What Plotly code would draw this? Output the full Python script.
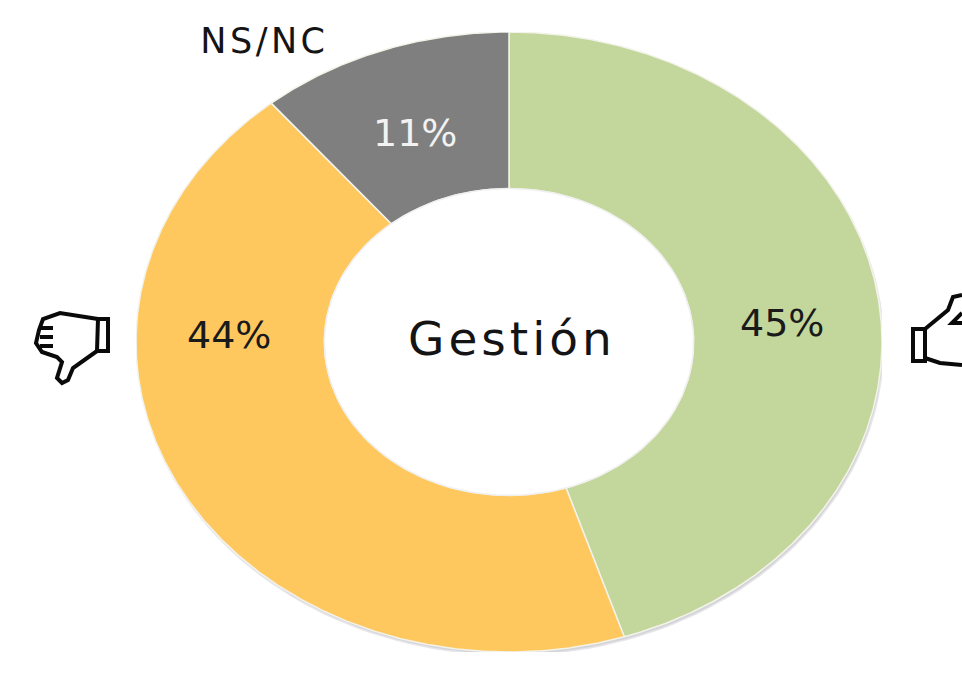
import math
import plotly.graph_objects as go

categories = ["A favor", "En contra", "NS/NC"]
values = [45, 44, 11]
labels = ["45%", "44%", "11%"]
colors = ["#C3D69B", "#FFC85F", "#7F7F7F"]
text_colors = ["#1a1a1a", "#1a1a1a", "#f2f2f2"]
label_x_px = [782, 229, 415]
label_y_px = [323, 335, 133]
HOLE = 0.495

W, H = 962, 674
L, R, T, B = 136, 882, 32, 652
FONT = "DejaVu Sans"
INK = "#141414"


def px_x(v):
    return v / W


def px_y(v):
    return 1 - v / H


def wedge(start, end):
    n = max(8, int((end - start) * 3))
    a = [math.radians(start + (end - start) * i / n) for i in range(n + 1)]
    xs = [math.sin(t) for t in a] + [HOLE * math.sin(t) for t in reversed(a)]
    ys = [math.cos(t) for t in a] + [HOLE * math.cos(t) for t in reversed(a)]
    return xs + xs[:1], ys + ys[:1]


def icon_path(points, closed=False):
    s = "M " + " L ".join(f"{px_x(x):.5f},{px_y(y):.5f}" for x, y in points)
    return s + (" Z" if closed else "")


fig = go.Figure()

# soft drop shadow beneath the ring
ring = [math.radians(i) for i in range(0, 361, 2)]
fig.add_trace(go.Scatter(
    x=[math.sin(t) + 1.5 / ((R - L) / 2) for t in ring],
    y=[math.cos(t) - 3 / ((B - T) / 2) for t in ring],
    mode="lines", fill="toself", fillcolor="#d4d4d8", line=dict(color="#e6e6ea", width=1.5),
    showlegend=False, hoverinfo="skip",
))

total = sum(values)
start = 0.0
for name, v, c in zip(categories, values, colors):
    end = start + 360.0 * v / total
    xs, ys = wedge(start, end)
    fig.add_trace(go.Scatter(x=xs, y=ys, mode="lines", fill="toself", fillcolor=c, name=name,
                             line=dict(color="#f3f3ea", width=1.5), showlegend=False, hoverinfo="name"))
    start = end

# white hole on top, so the shadow does not show through the centre
fig.add_trace(go.Scatter(
    x=[HOLE * math.sin(t) for t in ring], y=[HOLE * math.cos(t) for t in ring],
    mode="lines", fill="toself", fillcolor="white", line=dict(color="#f0f0f0", width=1.5),
    showlegend=False, hoverinfo="skip",
))


def note(text, x, y, size, color):
    fig.add_annotation(text=text, x=px_x(x), y=px_y(y), xref="paper", yref="paper", showarrow=False,
                       xanchor="center", yanchor="middle", font=dict(family=FONT, size=size, color=color))


for lab, lx, ly, tc in zip(labels, label_x_px, label_y_px, text_colors):
    note(lab, lx, ly, 38, tc)

note("Gestión", 512, 338, 47, INK)
note("NS/NC", 264, 41, 35, INK)

# thumb-down icon (left)
down_hand = [(98, 319), (60, 313), (43, 319), (39, 330), (36, 343), (42, 352), (57, 357),
             (62, 362), (57, 378), (62, 383), (68, 380), (73, 368), (97, 351)]
down_cuff = [(98, 319), (108, 319), (108, 351), (97, 351)]
down_fingers = [[(40, 328), (53, 328)], [(40, 337), (53, 337)], [(40, 346), (53, 346)]]
# thumb-up icon (right, cut by the page edge)
up_cuff = [(913, 329), (925, 329), (925, 361), (913, 361)]
up_hand = [(925, 329), (948, 310), (953, 297), (962, 295)]
up_thumb = [(962, 313), (952, 323), (962, 323)]
up_base = [(925, 358), (940, 363), (962, 365)]

icon_line = dict(color="#0a0a0a", width=4)
for pts, closed in [(down_hand, False), (down_cuff, True), (up_cuff, True), (up_hand, False),
                    (up_thumb, False), (up_base, False)] + [(f, False) for f in down_fingers]:
    fig.add_shape(type="path", path=icon_path(pts, closed), xref="paper", yref="paper",
                  line=icon_line, fillcolor="rgba(0,0,0,0)", layer="above")

fig.update_layout(
    width=W, height=H, margin=dict(l=0, r=0, t=0, b=0), paper_bgcolor="white", plot_bgcolor="white",
    showlegend=False,
    xaxis=dict(visible=False, range=[-1, 1], domain=[px_x(L), px_x(R)]),
    yaxis=dict(visible=False, range=[-1, 1], domain=[px_y(B), px_y(T)]),
)

post = """
document.body.style.margin = '0';
document.querySelectorAll('.annotation-text').forEach(function (t) {
  if (t.textContent === 'Gestión') { t.style.letterSpacing = '4px'; }
  if (t.textContent === 'NS/NC') { t.style.letterSpacing = '3.5px'; }
});
"""
fig.write_html("out.html", post_script=post, config={"displayModeBar": False})
